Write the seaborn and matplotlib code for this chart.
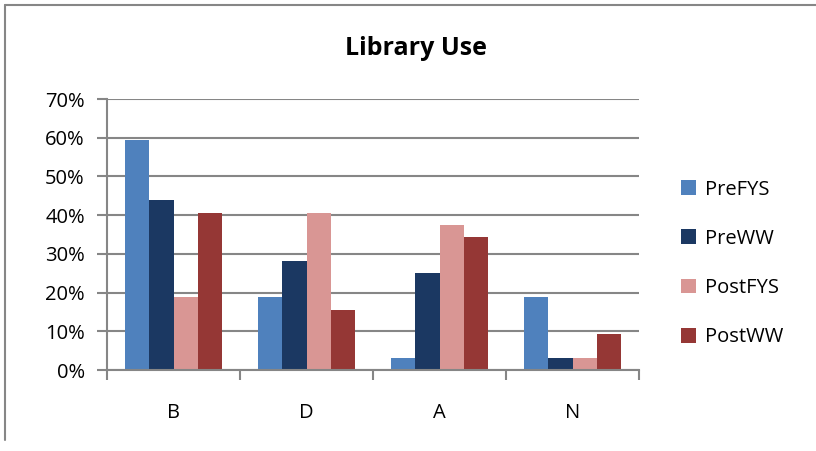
import pandas as pd
import seaborn as sns
import matplotlib.pyplot as plt
from matplotlib.lines import Line2D
from matplotlib.ticker import PercentFormatter, FixedLocator

# Chart data (shares)
categories = ["B", "D", "A", "N"]
series = ["PreFYS", "PreWW", "PostFYS", "PostWW"]
pre_fys = [0.594, 0.188, 0.031, 0.188]
pre_ww = [0.438, 0.281, 0.250, 0.031]
post_fys = [0.188, 0.406, 0.375, 0.031]
post_ww = [0.406, 0.156, 0.344, 0.094]
colors = ["#4F81BD", "#1B3862", "#D99694", "#953735"]

rows = []
for name, vals in zip(series, [pre_fys, pre_ww, post_fys, post_ww]):
    for cat, v in zip(categories, vals):
        rows.append({"category": cat, "series": name, "value": v})
df = pd.DataFrame(rows)

sns.set_theme(style="white")
plt.rcParams["font.family"] = ["Open Sans", "DejaVu Sans"]
plt.rcParams["text.color"] = "black"

fig = plt.figure(figsize=(8.16, 4.51), dpi=100)
ax = fig.add_axes([107 / 816, 81 / 451, 532 / 816, 271 / 451])

sns.barplot(
    data=df, x="category", y="value", hue="series",
    order=categories, hue_order=series, palette=colors,
    width=0.73, gap=0, saturation=1, linewidth=0, ax=ax, legend=True,
)

grid_c = "#868686"
ax.set_ylim(0, 0.7)
ax.set_xlim(-0.5, 3.5)
ax.yaxis.set_major_locator(FixedLocator([i / 10 for i in range(8)]))
ax.yaxis.set_major_formatter(PercentFormatter(1.0, decimals=0))
ax.grid(axis="y", color=grid_c, linewidth=1.5)
ax.set_axisbelow(True)
for s in ["top", "right"]:
    ax.spines[s].set_visible(False)
for s in ["left", "bottom"]:
    ax.spines[s].set_color(grid_c)
    ax.spines[s].set_linewidth(1.5)

ax.tick_params(axis="y", left=True, length=7, width=1.5, color=grid_c,
               pad=9, labelsize=14.5, labelcolor="black")
ax.tick_params(axis="x", which="major", length=0, pad=24,
               labelsize=14.5, labelcolor="black")
ax.set_xticks([-0.5, 0.5, 1.5, 2.5, 3.5], minor=True)
ax.tick_params(axis="x", which="minor", bottom=True, length=7,
               width=1.5, color=grid_c)
ax.set_xlabel("")
ax.set_ylabel("")

handles, labels = ax.get_legend_handles_labels()
ax.legend(
    handles, labels, loc="center left", bbox_to_anchor=(1.045, 0.393),
    frameon=False, fontsize=14.5, handlelength=0.75, handleheight=0.75,
    handletextpad=0.45, labelspacing=1.45,
)

fig.text(0.51, 0.893, "Library Use", ha="center", va="center",
         fontsize=18, fontweight="bold", color="black")

# outer chart frame (partly cropped in the reference)
fig.add_artist(Line2D([5 / 816, 1.0], [1 - 5 / 451, 1 - 5 / 451],
                      color=grid_c, linewidth=1.5))
fig.add_artist(Line2D([5 / 816, 5 / 816], [1 - 5 / 451, 1 - 440 / 451],
                      color=grid_c, linewidth=1.5))

plt.savefig("out.png", dpi=100)
